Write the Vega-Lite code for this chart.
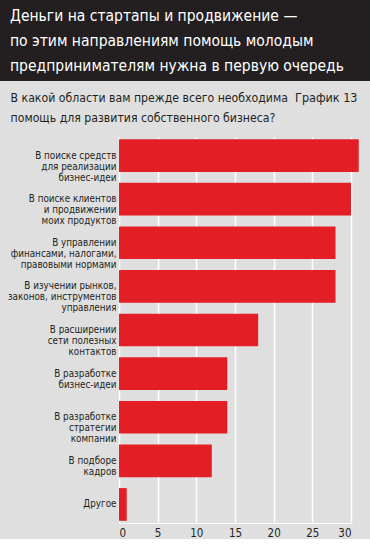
{
  "$schema": "https://vega.github.io/schema/vega-lite/v6.json",
  "padding": 0,
  "background": "#dfdfdf",
  "spacing": 10,
  "config": {
    "font": "Liberation Sans Narrow, DejaVu Sans Condensed, Liberation Sans, sans-serif"
  },
  "vconcat": [
    {
      "width": 370,
      "height": 81,
      "view": {"fill": "#231f20", "stroke": null},
      "data": {"values": [
        {"line": 1, "text": "Деньги на стартапы и продвижение —"},
        {"line": 2, "text": "по этим направлениям помощь молодым"},
        {"line": 3, "text": "предпринимателям нужна в первую очередь"}
      ]},
      "mark": {"type": "text", "align": "left", "baseline": "middle", "color": "#ffffff", "fontSize": 15.5},
      "encoding": {
        "x": {"value": 10},
        "y": {"field": "line", "type": "ordinal", "axis": null, "scale": {"type": "point", "padding": 0.62}},
        "text": {"field": "text"}
      }
    },
    {
      "width": 370,
      "height": 386,
      "view": {"stroke": null},
      "data": {"values": [
        {"cat": "В поиске средств|для реализации|бизнес-идеи", "v": 31},
        {"cat": "В поиске клиентов|и продвижении|моих продуктов", "v": 30},
        {"cat": "В управлении|финансами, налогами,|правовыми нормами", "v": 28},
        {"cat": "В изучении рынков,|законов, инструментов|управления", "v": 28},
        {"cat": "В расширении|сети полезных|контактов", "v": 18},
        {"cat": "В разработке|бизнес-идеи", "v": 14},
        {"cat": "В разработке|стратегии|компании", "v": 14},
        {"cat": "В подборе|кадров", "v": 12},
        {"cat": "Другое", "v": 1}
      ]},
      "mark": {"type": "bar", "color": "#e31e24", "clip": false},
      "encoding": {
        "y": {
          "field": "cat", "type": "nominal", "sort": null,
          "scale": {"paddingInner": 0.25, "paddingOuter": 0.05},
          "axis": {
            "offset": -119,
            "labelExpr": "split(datum.value, '|')",
            "labelFontSize": 9.8, "labelColor": "#231f20", "labelLineHeight": 11,
            "labelPadding": 3, "ticks": false, "domain": false, "grid": false,
            "title": ["В какой области вам прежде всего необходима", "помощь для развития собственного бизнеса?"],
            "titleAngle": 0, "titleAlign": "left", "titleBaseline": "top",
            "titleX": -109, "titleY": -46, "titleFontSize": 12.2, "titleFontWeight": "normal",
            "titleColor": "#231f20", "titleLineHeight": 20
          }
        },
        "x": {
          "field": "v", "type": "quantitative",
          "scale": {"domain": [0, 30], "nice": false, "range": [119, 351]},
          "axis": {
            "values": [0, 5, 10, 15, 20, 25, 30],
            "grid": true, "gridColor": "#ffffff", "gridWidth": 1.5, "gridOpacity": 1,
            "domain": true, "domainColor": "#ffffff", "domainWidth": 1,
            "ticks": false, "labelPadding": 4, "labelFontSize": 11.5, "labelColor": "#231f20",
            "title": "График 13",
            "titleX": 357, "titleY": -432, "titleAlign": "right", "titleBaseline": "top",
            "titleFontSize": 12.5, "titleFontWeight": "normal", "titleColor": "#231f20"
          }
        }
      }
    }
  ]
}
